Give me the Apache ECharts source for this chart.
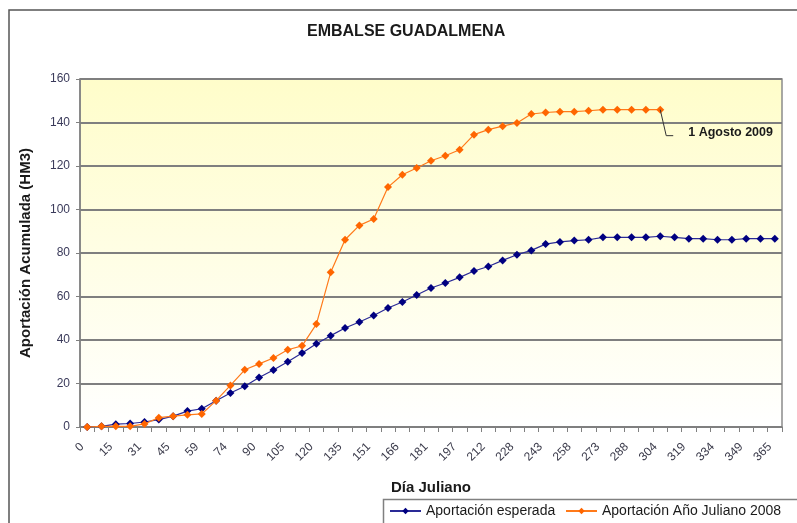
<!DOCTYPE html>
<html>
<head>
<meta charset="utf-8">
<script src="https://cdn.jsdelivr.net/npm/echarts@6/dist/echarts.min.js"></script>
<style>
html,body{margin:0;padding:0;background:#fff;}
#c{width:797px;height:523px;}
</style>
</head>
<body>
<div id="c"></div>
<script>
var days = [0,8,15,23,31,38,45,52,59,67,74,82,90,97,105,112,120,128,135,143,151,158,166,174,181,189,197,204,212,220,228,235,243,250,258,265,273,281,288,296,304,311,319,326,334,341,349,357,365];
var esperada = [0,0.3,1.3,1.6,2.3,3.4,5.0,7.3,8.4,12.1,15.6,18.7,22.8,26.2,30.0,34.0,38.3,42.0,45.5,48.3,51.3,54.7,57.5,60.7,63.9,66.2,68.8,71.7,73.8,76.6,79.2,81.2,84.1,85.1,85.7,86.1,87.2,87.2,87.2,87.2,87.7,87.2,86.6,86.6,86.1,86.1,86.6,86.6,86.6];
var anio2008 = [0,0.3,0.3,0.3,1.4,4.3,5.0,5.6,6.0,12.1,19.1,26.3,29.0,31.7,35.5,37.3,47.3,71.1,86.1,92.7,95.6,110.3,116.0,119.1,122.4,124.7,127.5,134.4,136.7,138.3,139.8,143.9,144.6,145.0,145.0,145.4,145.9,145.9,145.9,145.9,145.9];
var yTicks = [0,20,40,60,80,100,120,140,160];
var seriesNames = ['Aportación esperada','Aportación Año Juliano 2008'];
var annotationText = '1 Agosto 2009';

var chart = echarts.init(document.getElementById('c'), null, {renderer:'canvas'});
var font = 'Liberation Sans, Arial, sans-serif';
var option = {
  animation:false,
  backgroundColor:'#ffffff',
  title:{
    text:'EMBALSE GUADALMENA',
    left:307, top:24, padding:0,
    textStyle:{fontFamily:font,fontSize:16,fontWeight:'bold',color:'#1a1a1a'}
  },
  legend:[
    {data:[seriesNames[0]], left:389, top:504, itemWidth:31, itemHeight:8, padding:0,
     textStyle:{fontFamily:font,fontSize:14,color:'#1a1a1a'}, itemGap:5},
    {data:[seriesNames[1]], left:565, top:504, itemWidth:31, itemHeight:8, padding:0,
     textStyle:{fontFamily:font,fontSize:14,color:'#1a1a1a'}}
  ],
  grid:{left:80, top:79, width:702, height:348, show:true, borderColor:'#8c8c8c', borderWidth:1.5,
    backgroundColor:new echarts.graphic.LinearGradient(0,0,0,1,[{offset:0,color:'#FFFDCA'},{offset:1,color:'#FFFFFF'}])},
  xAxis:{
    type:'category', data:days.map(String), boundaryGap:true,
    name:'Día Juliano', nameLocation:'middle', nameGap:53,
    nameTextStyle:{fontFamily:font,fontSize:15,fontWeight:'bold',color:'#1a1a1a'},
    axisLine:{lineStyle:{color:'#808080',width:1.5}},
    axisTick:{show:true,interval:0,length:5,lineStyle:{color:'#808080',width:1}},
    axisLabel:{interval:1,rotate:45,margin:13,padding:[0,7,0,0],fontFamily:font,fontSize:12,color:'#3a3a4a'},
    splitLine:{show:false}
  },
  yAxis:{
    type:'value', min:0, max:160, interval:20,
    name:'Aportación Acumulada (HM3)', nameLocation:'middle', nameGap:47,
    nameTextStyle:{fontFamily:font,fontSize:15,fontWeight:'bold',color:'#1a1a1a'},
    axisLine:{show:true,lineStyle:{color:'#808080',width:1.5}},
    axisTick:{show:true,length:4,lineStyle:{color:'#808080'}},
    axisLabel:{margin:10,fontFamily:font,fontSize:12,color:'#3a3a5a',
      formatter:function(v){return yTicks.indexOf(v)>=0?String(v):'';}},
    splitLine:{lineStyle:{color:'#7f7f7f',width:2}}
  },
  series:[
    {name:seriesNames[0], type:'line', data:esperada, symbol:'diamond', symbolSize:8,
     lineStyle:{color:'#2a2a96',width:1.2}, itemStyle:{color:'#000080'}, z:2},
    {name:seriesNames[1], type:'line', data:anio2008, symbol:'diamond', symbolSize:8,
     lineStyle:{color:'#FF7A1A',width:1.2}, itemStyle:{color:'#FF6600'}, z:3}
  ]
};
chart.setOption(option);

// annotation anchored on last point of 2008 series (through library scales)
var lastIdx = anio2008.length-1;
var p = chart.convertToPixel({seriesIndex:1},[lastIdx, anio2008[lastIdx]]);
chart.setOption({
  graphic:[
    {type:'rect', shape:{x:9,y:10,width:800,height:520}, style:{fill:'none',stroke:'#555',lineWidth:1.5}, z:-1, silent:true},
    {type:'rect', shape:{x:383.5,y:499.5,width:420,height:40}, style:{fill:'none',stroke:'#808080',lineWidth:1.5}, silent:true},
    {type:'polyline', shape:{points:[[p[0],p[1]],[p[0]+6,p[1]+26],[p[0]+13,p[1]+26]]}, style:{stroke:'#333',lineWidth:1,fill:'none'}, z:10},
    {type:'text', x:p[0]+28, y:p[1]+23, style:{text:annotationText, fontFamily:font, fontSize:12.5, fontWeight:'bold', fill:'#1a1a1a', textVerticalAlign:'middle'}, z:10}
  ]
});
</script>
</body>
</html>
